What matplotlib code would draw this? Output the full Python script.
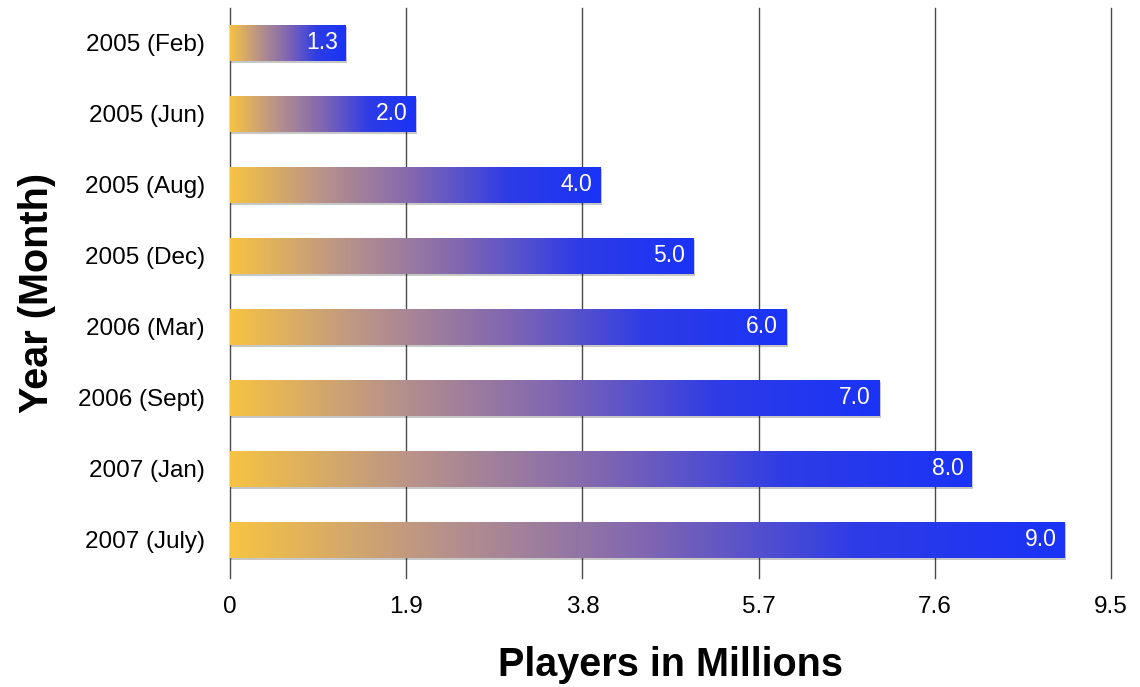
import numpy as np
import matplotlib
matplotlib.use("Agg")
import matplotlib.pyplot as plt
from matplotlib import patheffects as pe
from matplotlib.colors import LinearSegmentedColormap

# data
periods = ["2005 (Feb)", "2005 (Jun)", "2005 (Aug)", "2005 (Dec)",
           "2006 (Mar)", "2006 (Sept)", "2007 (Jan)", "2007 (July)"]
players = [1.25, 2.0, 4.0, 5.0, 6.0, 7.0, 8.0, 9.0]
value_labels = ["1.3", "2.0", "4.0", "5.0", "6.0", "7.0", "8.0", "9.0"]
xticks = [0, 1.9, 3.8, 5.7, 7.6, 9.5]
xticklabels = ["0", "1.9", "3.8", "5.7", "7.6", "9.5"]

plt.rcParams['font.family'] = ['Liberation Sans', 'DejaVu Sans']

fig = plt.figure(figsize=(11.4, 6.87), dpi=100)
ax = fig.add_axes([0.2018, 0.1587, 0.7728, 0.8297])

cmap = LinearSegmentedColormap.from_list("gold_blue", ["#f6c343", "#b8928a", "#8066b2", "#2e3ce6", "#1a33f7"])
grad = np.linspace(0, 1, 256).reshape(1, -1)

ypos = np.arange(len(periods))
h = 0.51

# grid lines first, under the bars
for t in xticks:
    ax.axvline(t, color="#4a4a4a", lw=1.0, zorder=0, clip_on=False)

bars = ax.barh(ypos, players, height=h, color="white", zorder=2,
               path_effects=[pe.SimplePatchShadow(offset=(1, -1.5), shadow_rgbFace="black", alpha=0.22),
                             pe.Normal()])
for b, v, lab, y in zip(bars, players, value_labels, ypos):
    im = ax.imshow(grad, extent=[0, v, y + h / 2, y - h / 2], aspect="auto",
                   cmap=cmap, interpolation="bilinear", zorder=3)
    im.set_clip_path(b)
    ax.annotate(lab, xy=(v, y), xytext=(-6, 0), textcoords="offset points",
                ha="right", va="center", color="white", fontsize=16.5, zorder=4)

ax.set_xlim(0, 9.5)
ax.set_ylim(7.535, -0.49)
ax.set_xticks(xticks)
ax.set_xticklabels(xticklabels)
ax.set_yticks(ypos)
ax.set_yticklabels(periods)
ax.tick_params(axis="x", length=0, pad=13, labelsize=17.5)
ax.tick_params(axis="y", length=0, pad=18, labelsize=17.5)
for s in ax.spines.values():
    s.set_visible(False)

ax.set_xlabel("Players in Millions", fontsize=28.5, fontweight="bold", labelpad=20)
ax.set_ylabel("Year (Month)", fontsize=28.5, fontweight="bold", labelpad=16)

fig.savefig("out.png", dpi=100)
